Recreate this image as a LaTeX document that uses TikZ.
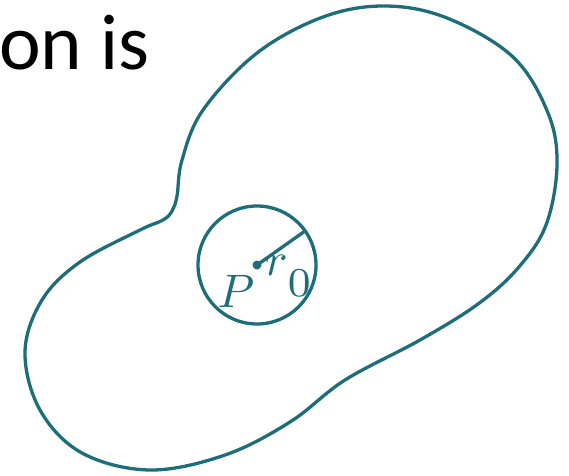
\documentclass[tikz,border=0pt]{standalone}
\usepackage{graphicx}
\usepackage{fontspec}
\usepackage{xcolor}
\newfontfamily\calibfont{Carlito}
\definecolor{tealline}{RGB}{30,110,121}

\begin{document}
\begin{tikzpicture}[x=1pt, y=-1pt,
    blob_style/.style={line width=3.3pt, tealline},
    disc_style/.style={line width=3.3pt, tealline},
    center_style/.style={tealline, fill, circle, inner sep=0pt, minimum size=9pt},
    radius_style/.style={line width=3.3pt, tealline},
    label_style/.style={tealline, inner sep=0pt}
]
    \useasboundingbox (0,0) rectangle (569,475);

    % Heading text
    \node (heading) at (-1,69) [anchor=base west, inner sep=0pt,
        font=\calibfont\fontsize{79}{90}\selectfont] {on is};

    % Outer region
    \draw[blob_style] plot[smooth cycle, tension=0.6] coordinates {
        (172,211) (177,196) (182,160) (203,110) (257,53) (323,17)
        (385,6) (447,18) (513,57) (548,113) (557,165) (546,225)
        (518,268) (478,304) (420,340) (345,380) (290,422) (225,455)
        (150,470) (82,453) (40,410) (25,352) (42,300) (80,262)
        (140,230) (163,220)
    };

    % Point P and the disc round it
    \node (P_point) at (257,265) [center_style] {};
    \draw[disc_style] (P_point.center) circle (59);

    % Radius r_0
    \coordinate (r_end) at (305,231);
    \draw[radius_style] (P_point.center) -- (r_end);

    % Labels
    \node (P_label) at (236,307) [label_style, anchor=base] {\scalebox{4.7}{$P$}};
    \node (r_label) at (265,275) [label_style, anchor=base west]
        {\scalebox{4.7}{$r\raisebox{-4.6pt}{\scalebox{1.25}{$\scriptstyle 0$}}$}};

\end{tikzpicture}
\end{document}
